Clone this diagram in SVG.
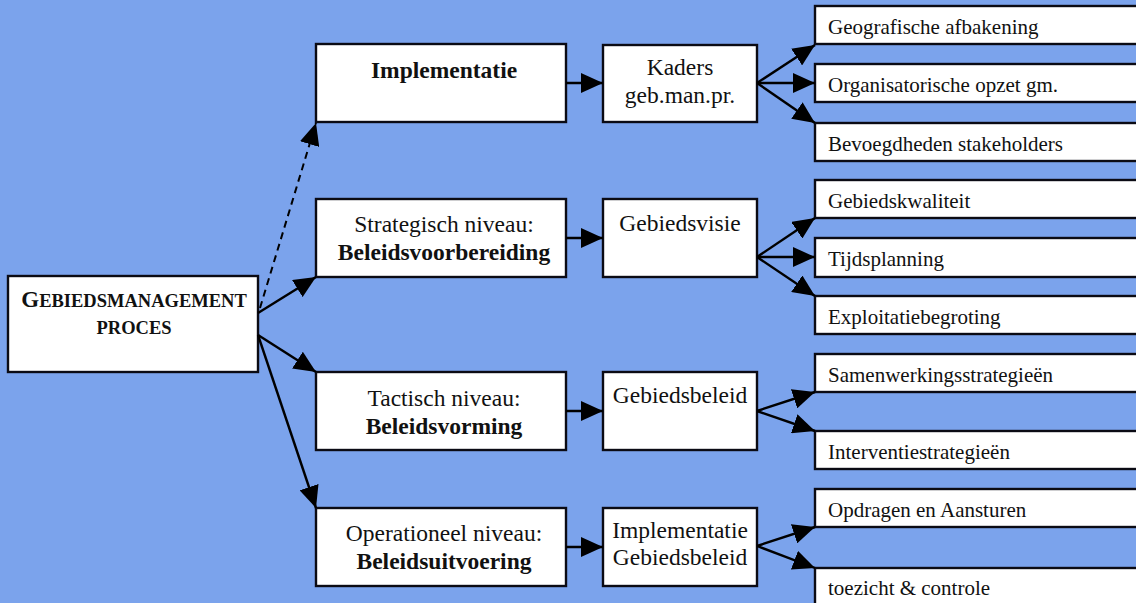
<svg xmlns="http://www.w3.org/2000/svg" width="1136" height="603" viewBox="0 0 1136 603">
  <defs>
    <marker id="arrow" markerUnits="userSpaceOnUse" markerWidth="22" markerHeight="20" refX="22" refY="10" orient="auto">
      <path d="M0,0 L22,10 L0,20 z" fill="#000"/>
    </marker>
    <style>
      .box { fill: #ffffff; stroke: #0b0b14; stroke-width: 2.4; }
      .t { font-family: "Liberation Serif", "Times New Roman", serif; fill: #111; }
      .mid { font-size: 23.5px; text-anchor: middle; }
      .b { font-weight: bold; }
      .leaf { font-size: 21px; }
      .link { stroke: #000; stroke-width: 2.4; fill: none; marker-end: url(#arrow); }
      .dash { stroke-dasharray: 7 5; stroke-width: 2; }
    </style>
  </defs>

  <!-- background -->
  <rect x="0" y="0" width="1136" height="603" fill="#7ba3ec"/>

  <!-- root -->
  <g id="gebiedsmanagement-proces">
    <rect class="box" x="8" y="276" width="250" height="96"/>
    <text class="t b" x="134" y="307" text-anchor="middle"><tspan font-size="23">G</tspan><tspan font-size="18.5">EBIEDSMANAGEMENT</tspan></text>
    <text class="t b" x="134" y="334" text-anchor="middle" font-size="18.5">PROCES</text>
  </g>

  <!-- level 2 -->
  <g id="implementatie">
    <rect class="box" x="316" y="44" width="250" height="78"/>
    <text class="t mid b" x="444" y="78">Implementatie</text>
  </g>
  <g id="strategisch">
    <rect class="box" x="316" y="199" width="250" height="78"/>
    <text class="t mid" x="444" y="232">Strategisch niveau:</text>
    <text class="t mid b" x="444" y="260">Beleidsvoorbereiding</text>
  </g>
  <g id="tactisch">
    <rect class="box" x="316" y="372" width="250" height="78"/>
    <text class="t mid" x="444" y="406">Tactisch niveau:</text>
    <text class="t mid b" x="444" y="434">Beleidsvorming</text>
  </g>
  <g id="operationeel">
    <rect class="box" x="316" y="508" width="250" height="78"/>
    <text class="t mid" x="444" y="541">Operationeel niveau:</text>
    <text class="t mid b" x="444" y="569">Beleidsuitvoering</text>
  </g>

  <!-- level 3 -->
  <g id="kaders">
    <rect class="box" x="603" y="45" width="154" height="77"/>
    <text class="t mid" x="680" y="75">Kaders</text>
    <text class="t mid" x="680" y="103">geb.man.pr.</text>
  </g>
  <g id="gebiedsvisie">
    <rect class="box" x="603" y="199" width="154" height="78"/>
    <text class="t mid" x="680" y="231">Gebiedsvisie</text>
  </g>
  <g id="gebiedsbeleid">
    <rect class="box" x="603" y="372" width="154" height="78"/>
    <text class="t mid" x="680" y="403">Gebiedsbeleid</text>
  </g>
  <g id="implementatie-gebiedsbeleid">
    <rect class="box" x="603" y="508" width="154" height="78"/>
    <text class="t mid" x="680" y="538">Implementatie</text>
    <text class="t mid" x="680" y="565">Gebiedsbeleid</text>
  </g>

  <!-- level 4 -->
  <g id="geografische-afbakening">
    <rect class="box" x="815" y="6" width="330" height="38"/>
    <text class="t leaf" x="828" y="34">Geografische afbakening</text>
  </g>
  <g id="organisatorische-opzet">
    <rect class="box" x="815" y="64" width="330" height="38"/>
    <text class="t leaf" x="828" y="92">Organisatorische opzet gm.</text>
  </g>
  <g id="bevoegdheden">
    <rect class="box" x="815" y="123" width="330" height="38"/>
    <text class="t leaf" x="828" y="151">Bevoegdheden stakeholders</text>
  </g>
  <g id="gebiedskwaliteit">
    <rect class="box" x="815" y="180" width="330" height="38"/>
    <text class="t leaf" x="828" y="208">Gebiedskwaliteit</text>
  </g>
  <g id="tijdsplanning">
    <rect class="box" x="815" y="238" width="330" height="39"/>
    <text class="t leaf" x="828" y="266">Tijdsplanning</text>
  </g>
  <g id="exploitatiebegroting">
    <rect class="box" x="815" y="296" width="330" height="38"/>
    <text class="t leaf" x="828" y="324">Exploitatiebegroting</text>
  </g>
  <g id="samenwerkingsstrategieen">
    <rect class="box" x="815" y="354" width="330" height="38"/>
    <text class="t leaf" x="828" y="382">Samenwerkingsstrategieën</text>
  </g>
  <g id="interventiestrategieen">
    <rect class="box" x="815" y="431" width="330" height="38"/>
    <text class="t leaf" x="828" y="459">Interventiestrategieën</text>
  </g>
  <g id="opdragen-aansturen">
    <rect class="box" x="815" y="489" width="330" height="38"/>
    <text class="t leaf" x="828" y="517">Opdragen en Aansturen</text>
  </g>
  <g id="toezicht-controle">
    <rect class="box" x="815" y="568" width="330" height="40"/>
    <text class="t leaf" x="828" y="595">toezicht &amp; controle</text>
  </g>

  <!-- connectors -->
  <g id="connectors">
    <line class="link dash" x1="260" y1="308" x2="316" y2="123"/>
    <line class="link" x1="258" y1="313" x2="316" y2="277"/>
    <line class="link" x1="258" y1="335" x2="316" y2="372"/>
    <line class="link" x1="258" y1="335" x2="316" y2="508"/>

    <line class="link" x1="566" y1="83" x2="603" y2="83"/>
    <line class="link" x1="566" y1="238" x2="603" y2="238"/>
    <line class="link" x1="566" y1="411" x2="603" y2="411"/>
    <line class="link" x1="566" y1="547" x2="603" y2="547"/>

    <line class="link" x1="757" y1="83" x2="815" y2="45"/>
    <line class="link" x1="757" y1="83" x2="815" y2="83"/>
    <line class="link" x1="757" y1="83" x2="815" y2="123"/>

    <line class="link" x1="757" y1="257" x2="815" y2="218"/>
    <line class="link" x1="757" y1="257" x2="815" y2="257"/>
    <line class="link" x1="757" y1="257" x2="815" y2="296"/>

    <line class="link" x1="757" y1="411" x2="815" y2="392"/>
    <line class="link" x1="757" y1="411" x2="815" y2="431"/>

    <line class="link" x1="757" y1="546" x2="815" y2="527"/>
    <line class="link" x1="757" y1="546" x2="815" y2="568"/>
  </g>
</svg>
